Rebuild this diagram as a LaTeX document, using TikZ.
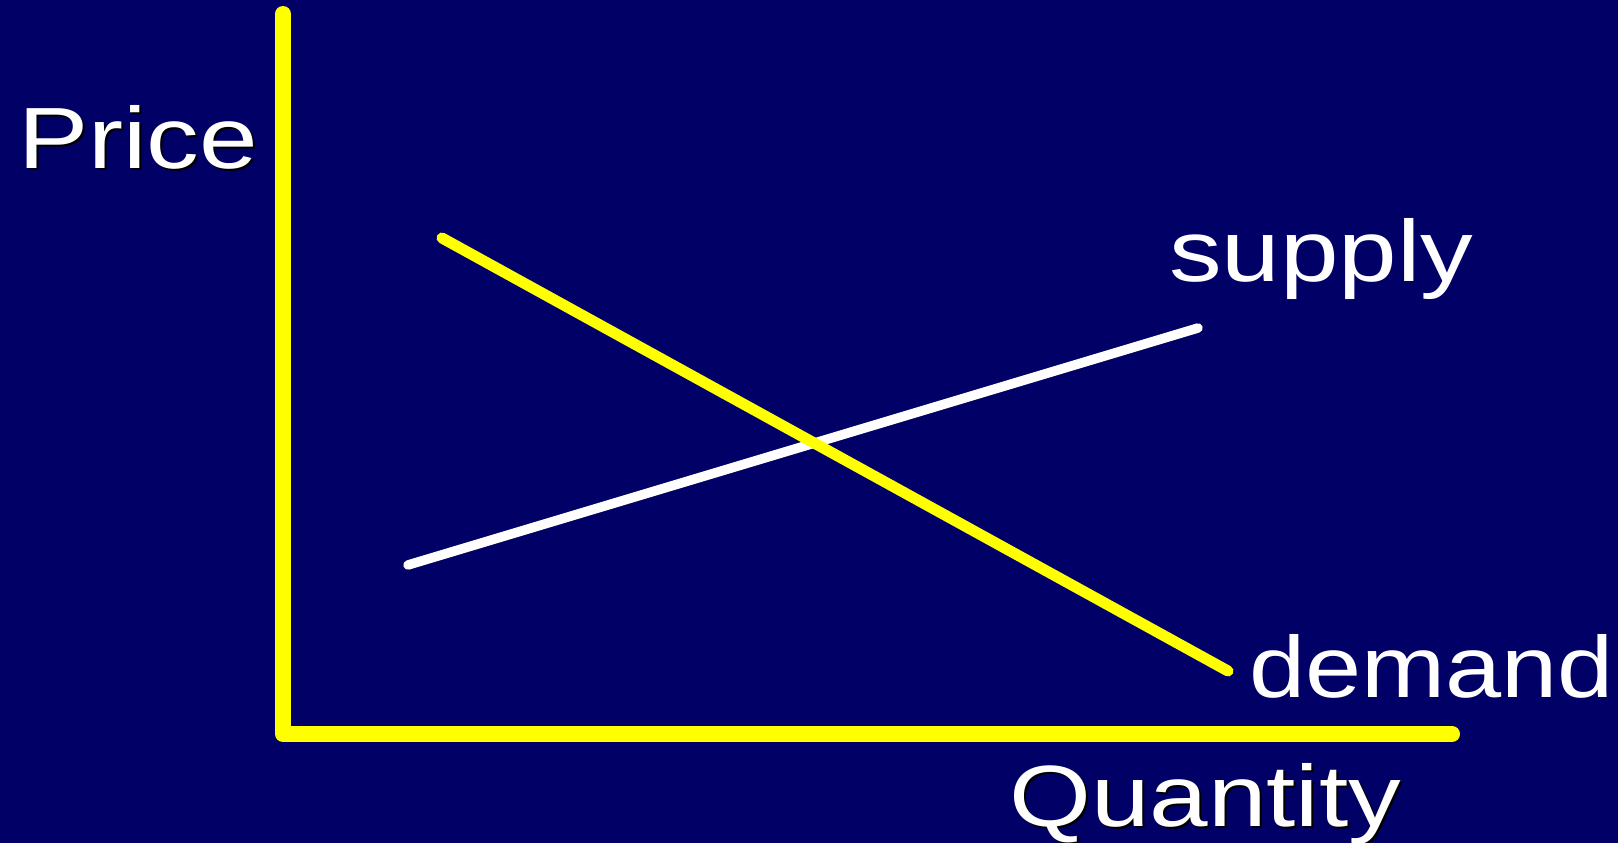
\documentclass[tikz,border=0pt]{standalone}
\usepackage{fontspec}
\setmainfont{Liberation Sans}
\newfontfamily\slidefont[FakeStretch=1.21]{Liberation Sans}
\newfontfamily\narrowfont[FakeStretch=1.16]{Liberation Sans}
\usepackage{tikz}
\usetikzlibrary{positioning}
\definecolor{slideblue}{RGB}{0,0,102}
\definecolor{axisyellow}{RGB}{255,255,0}
\tikzstyle{axis} = [line width=16pt, line cap=round, line join=round, draw=axisyellow]
\tikzstyle{demandline} = [line width=11pt, line cap=round, draw=axisyellow]
\tikzstyle{supplyline} = [line width=9.5pt, line cap=round, draw=white]
\tikzstyle{label} = [anchor=base west, inner sep=0pt, text=white, font=\slidefont\fontsize{87}{100}\selectfont]
\tikzstyle{shadow} = [anchor=base west, inner sep=0pt, text=black, font=\slidefont\fontsize{87}{100}\selectfont]

\begin{document}
\begin{tikzpicture}[x=1pt, y=-1pt]

\fill[slideblue] (0,0) rectangle (1618,843);
\useasboundingbox (0,0) rectangle (1618,843);

\coordinate (ytop) at (283,14);
\coordinate (origin) at (283,734);
\coordinate (xend) at (1452,734);
\coordinate (dstart) at (442,238);
\coordinate (dend) at (1228,671);
\coordinate (sstart) at (408,565);
\coordinate (send) at (1198,328);

% axes
\draw [axis] (ytop) -- (origin) -- (xend);

% curves
\draw [supplyline] (sstart) -- (send);
\draw [demandline] (dstart) -- (dend);

% labels
\node (priceshadow) [shadow] at (20,170) {Price};
\node (price) [label] at (18,168) {Price};
\node (supply) [label] at (1169,281) {supply};
\node (demand) [label, font=\narrowfont\fontsize{87}{100}\selectfont] at (1249,697) {demand};
\node (qtyshadow) [shadow] at (1011,828) {Quantity};
\node (qty) [label] at (1009,826) {Quantity};

\end{tikzpicture}
\end{document}
